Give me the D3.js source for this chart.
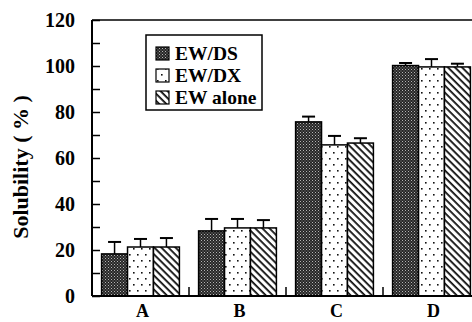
<!DOCTYPE html>
<html>
<head>
<meta charset="utf-8">
<script src="https://cdn.jsdelivr.net/npm/d3@7"></script>
<style>
  body { margin: 0; background: #fff; }
  svg { display: block; }
  text { font-family: "Liberation Serif", "DejaVu Serif", serif; font-weight: bold; fill: #000; }
</style>
</head>
<body>
<div id="chart"></div>
<script>
// categories and series
const categories = ['A', 'B', 'C', 'D'];
const seriesNames = ['EW/DS', 'EW/DX', 'EW alone'];
const dsValues = [18.3, 28.3, 75.7, 100.2];
const dxValues = [21.3, 29.6, 65.7, 99.6];
const aloneValues = [21.3, 29.6, 66.5, 99.6];
const dsErrors = [5.2, 5.2, 2.3, 1.1];
const dxErrors = [3.5, 3.9, 3.9, 3.4];
const aloneErrors = [3.9, 3.4, 2.1, 1.4];
const yTicks = [0, 20, 40, 60, 80, 100, 120];
const yMinorTicks = [10, 30, 50, 70, 90, 110];

const width = 472, height = 322;
const margin = { top: 20, left: 92, bottom: 26 };
const plotRight = 480;

const svg = d3.select('#chart').append('svg')
    .attr('width', width)
    .attr('height', height);

// patterns
const defs = svg.append('defs');

const pDS = defs.append('pattern')
    .attr('id', 'pat-ds')
    .attr('patternUnits', 'userSpaceOnUse')
    .attr('width', 3).attr('height', 3);
pDS.append('rect').attr('width', 3).attr('height', 3).attr('fill', '#262626');
pDS.append('rect').attr('x', 0).attr('y', 0).attr('width', 1).attr('height', 1).attr('fill', '#b5b5b5');
pDS.append('rect').attr('x', 1.5).attr('y', 1.5).attr('width', 1).attr('height', 1).attr('fill', '#909090');

const pDX = defs.append('pattern')
    .attr('id', 'pat-dx')
    .attr('patternUnits', 'userSpaceOnUse')
    .attr('width', 8).attr('height', 12);
pDX.append('rect').attr('width', 8).attr('height', 12).attr('fill', '#fff');
pDX.append('rect').attr('x', 1).attr('y', 2).attr('width', 1.6).attr('height', 1.6).attr('fill', '#111');
pDX.append('rect').attr('x', 5).attr('y', 8).attr('width', 1.6).attr('height', 1.6).attr('fill', '#111');

// backslash hatching
const pAl = defs.append('pattern')
    .attr('id', 'pat-alone')
    .attr('patternUnits', 'userSpaceOnUse')
    .attr('width', 5).attr('height', 5)
    .attr('patternTransform', 'rotate(45)');
pAl.append('rect').attr('width', 5).attr('height', 5).attr('fill', '#fff');
pAl.append('rect').attr('x', 0).attr('y', 0).attr('width', 5).attr('height', 1.8).attr('fill', '#111');

const fills = ['url(#pat-ds)', 'url(#pat-dx)', 'url(#pat-alone)'];
const values = [dsValues, dxValues, aloneValues];
const errors = [dsErrors, dxErrors, aloneErrors];

// scales
const x = d3.scaleBand()
    .domain(categories)
    .range([margin.left, plotRight])
    .paddingInner(0).paddingOuter(0);

const x1 = d3.scaleBand()
    .domain(seriesNames)
    .range([0, x.bandwidth()])
    .paddingInner(0)
    .paddingOuter(0.37);

const y = d3.scaleLinear()
    .domain([0, 120])
    .range([height - margin.bottom, margin.top]);

// bars
const rows = [];
categories.forEach((c, i) => {
    seriesNames.forEach((s, j) => {
        rows.push({ cat: c, series: s, idx: j, value: values[j][i], err: errors[j][i] });
    });
});

const g = svg.append('g');

// error bars (upper only), drawn behind bars
const errG = g.selectAll('.err').data(rows).join('g').attr('class', 'err');
errG.append('line')
    .attr('x1', d => x(d.cat) + x1(d.series) + x1.bandwidth() / 2)
    .attr('x2', d => x(d.cat) + x1(d.series) + x1.bandwidth() / 2)
    .attr('y1', d => y(d.value))
    .attr('y2', d => y(d.value + d.err))
    .attr('stroke', '#000').attr('stroke-width', 1.5);
errG.append('line')
    .attr('x1', d => x(d.cat) + x1(d.series) + x1.bandwidth() / 2 - 6.5)
    .attr('x2', d => x(d.cat) + x1(d.series) + x1.bandwidth() / 2 + 6.5)
    .attr('y1', d => y(d.value + d.err))
    .attr('y2', d => y(d.value + d.err))
    .attr('stroke', '#000').attr('stroke-width', 2);

g.selectAll('.bar').data(rows).join('rect')
    .attr('class', 'bar')
    .attr('x', d => x(d.cat) + x1(d.series))
    .attr('y', d => y(d.value))
    .attr('width', x1.bandwidth())
    .attr('height', d => y(0) - y(d.value))
    .attr('fill', d => fills[d.idx])
    .attr('stroke', '#000')
    .attr('stroke-width', 1.5);

// y axis (ticks pointing inward)
const yAxis = svg.append('g')
    .attr('transform', `translate(${margin.left},0)`)
    .call(d3.axisRight(y).tickValues(yTicks.concat(yMinorTicks)).tickSize(8).tickFormat(''));
yAxis.select('.domain').remove();
yAxis.selectAll('line').attr('stroke', '#000').attr('stroke-width', 1.5);

svg.append('g').selectAll('text').data(yTicks).join('text')
    .attr('x', 75)
    .attr('y', d => y(d))
    .attr('dy', '0.35em')
    .attr('text-anchor', 'end')
    .style('font-size', '20px')
    .text(d => d);

// frame lines
svg.append('line')
    .attr('x1', margin.left).attr('x2', margin.left)
    .attr('y1', y(120)).attr('y2', y(0))
    .attr('stroke', '#000').attr('stroke-width', 2);
svg.append('line')
    .attr('x1', margin.left).attr('x2', plotRight)
    .attr('y1', y(0)).attr('y2', y(0))
    .attr('stroke', '#000').attr('stroke-width', 2);
svg.append('line')
    .attr('x1', margin.left).attr('x2', plotRight)
    .attr('y1', y(120)).attr('y2', y(120))
    .attr('stroke', '#000').attr('stroke-width', 1.5);

// category separator ticks (upward)
svg.append('g').selectAll('line').data(categories.slice(1)).join('line')
    .attr('x1', d => x(d)).attr('x2', d => x(d))
    .attr('y1', y(0)).attr('y2', y(0) - 9)
    .attr('stroke', '#000').attr('stroke-width', 1.5);

// category labels
svg.append('g').selectAll('text').data(categories).join('text')
    .attr('x', d => x(d) + x.bandwidth() / 2 + 2)
    .attr('y', 317)
    .attr('text-anchor', 'middle')
    .style('font-size', '18px')
    .text(d => d);

// y title
svg.append('text')
    .attr('transform', `translate(28,${(y(0) + y(120)) / 2 + 9}) rotate(-90)`)
    .attr('text-anchor', 'middle')
    .style('font-size', '22px')
    .text('Solubility ( % )');

// legend
const legend = svg.append('g');
legend.append('rect')
    .attr('x', 146).attr('y', 35)
    .attr('width', 116).attr('height', 75)
    .attr('fill', '#fff')
    .attr('stroke', '#000').attr('stroke-width', 1.5);
seriesNames.forEach((s, j) => {
    const cy = 53 + j * 22;
    legend.append('rect')
        .attr('x', 156).attr('y', cy - 6)
        .attr('width', 13).attr('height', 13)
        .attr('fill', fills[j])
        .attr('stroke', '#000').attr('stroke-width', 1.2);
    legend.append('text')
        .attr('x', 175).attr('y', cy + 7)
        .style('font-size', '19.5px')
        .text(s);
});
</script>
</body>
</html>
